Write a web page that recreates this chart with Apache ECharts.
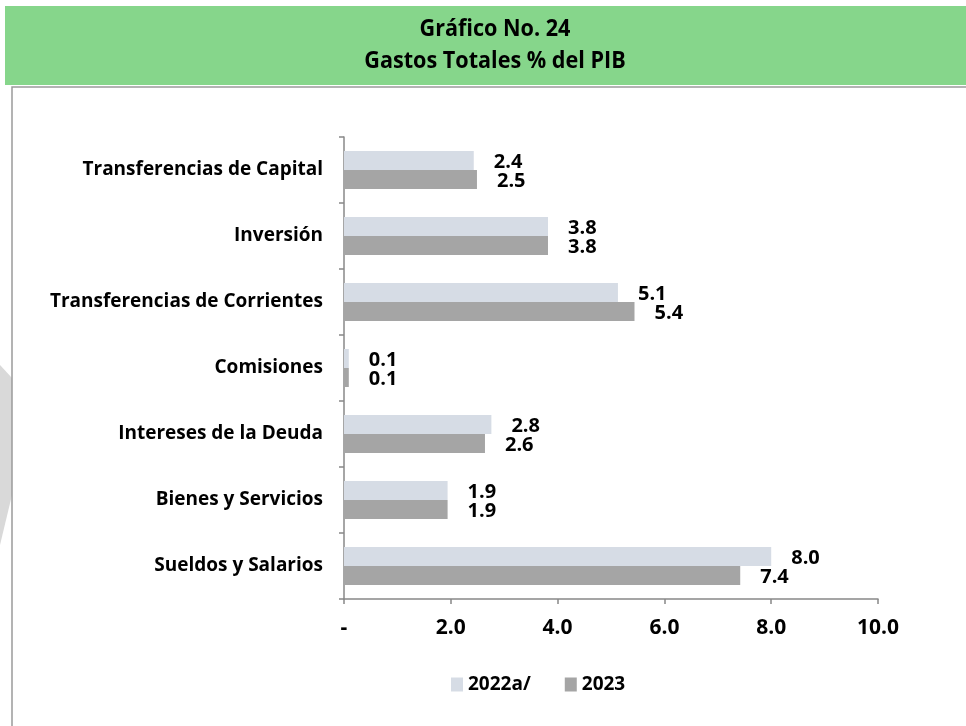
<!DOCTYPE html>
<html>
<head>
<meta charset="utf-8">
<script src="https://cdn.jsdelivr.net/npm/echarts@6/dist/echarts.min.js"></script>
<style>
  html, body { margin: 0; padding: 0; background: #fff; }
  #chart { width: 966px; height: 726px; }
</style>
</head>
<body>
<div id="chart"></div>
<script>
// datos (de abajo hacia arriba)
var categories = ['Sueldos y Salarios', 'Bienes y Servicios', 'Intereses de la Deuda', 'Comisiones',
                  'Transferencias de Corrientes', 'Inversión', 'Transferencias de Capital'];
var values2022 = [8.0, 1.94, 2.76, 0.09, 5.13, 3.82, 2.43];
var values2023 = [7.42, 1.94, 2.64, 0.09, 5.44, 3.82, 2.49];
var seriesNames = ['2022a/', '2023'];
var xTicks = { min: 0, max: 10, step: 2 };

var font = 'Open Sans';
var myChart = echarts.init(document.getElementById('chart'));

function barLabel() {
    return {
        show: true,
        position: 'right',
        distance: 20,
        offset: [0, 2],
        color: '#000',
        fontFamily: font,
        fontWeight: 'bold',
        fontSize: 20,
        formatter: function (p) { return p.value.toFixed(1); }
    };
}

var option = {
    animation: false,
    backgroundColor: '#fff',
    graphic: [
        // marca de agua gris
        { type: 'polygon', z: -10, shape: { points: [[0, 365], [12, 378], [12, 495], [0, 545]] },
          style: { fill: '#d9d9d9' } },
        // banda verde del titulo
        { type: 'rect', z: 1, shape: { x: 5, y: 6, width: 961, height: 79 }, style: { fill: '#86d68b' } },
        { type: 'text', z: 2, x: 495, y: 29, scaleX: 0.9,
          style: { text: 'Gráfico No. 24', fill: '#000', font: 'bold 24px "Open Sans"',
                   textAlign: 'center', textVerticalAlign: 'middle' } },
        { type: 'text', z: 2, x: 495, y: 61, scaleX: 0.9,
          style: { text: 'Gastos Totales % del PIB', fill: '#000', font: 'bold 24px "Open Sans"',
                   textAlign: 'center', textVerticalAlign: 'middle' } },
        // marco del area del grafico
        { type: 'rect', z: 1, shape: { x: 12, y: 87, width: 970, height: 660 },
          style: { fill: null, stroke: '#9a9a9a', lineWidth: 1.5 } }
    ],
    legend: {
        data: seriesNames,
        left: 446,
        top: 670,
        itemWidth: 12,
        itemHeight: 14,
        itemGap: 34,
        icon: 'rect',
        textStyle: { fontFamily: font, fontWeight: 'bold', fontSize: 19, color: '#000' }
    },
    grid: { left: 344, right: 88, top: 137, bottom: 127 },
    xAxis: {
        type: 'value',
        min: xTicks.min,
        max: xTicks.max,
        interval: xTicks.step,
        splitLine: { show: false },
        axisLine: { show: true, lineStyle: { color: '#888', width: 1.5 } },
        axisTick: { show: true, length: 5, lineStyle: { color: '#888', width: 1.5 } },
        axisLabel: {
            margin: 19,
            color: '#000',
            fontFamily: font,
            fontWeight: 'bold',
            fontSize: 21,
            formatter: function (v) { return v === 0 ? '-' : v.toFixed(1); }
        }
    },
    yAxis: {
        type: 'category',
        data: categories,
        axisLine: { show: true, lineStyle: { color: '#888', width: 1.5 } },
        axisTick: { show: true, length: 5, lineStyle: { color: '#888', width: 1.5 } },
        axisLabel: {
            margin: 21,
            color: '#000',
            fontFamily: font,
            fontWeight: 'bold',
            fontSize: 19
        }
    },
    series: [{
        name: seriesNames[0],
        type: 'bar',
        data: values2022,
        barWidth: 19,
        barGap: '0%',
        itemStyle: { color: '#d6dce5' },
        label: barLabel()
    }, {
        name: seriesNames[1],
        type: 'bar',
        data: values2023,
        barWidth: 19,
        barGap: '0%',
        itemStyle: { color: '#a5a5a5' },
        label: barLabel()
    }]
};

myChart.setOption(option);
</script>
</body>
</html>
